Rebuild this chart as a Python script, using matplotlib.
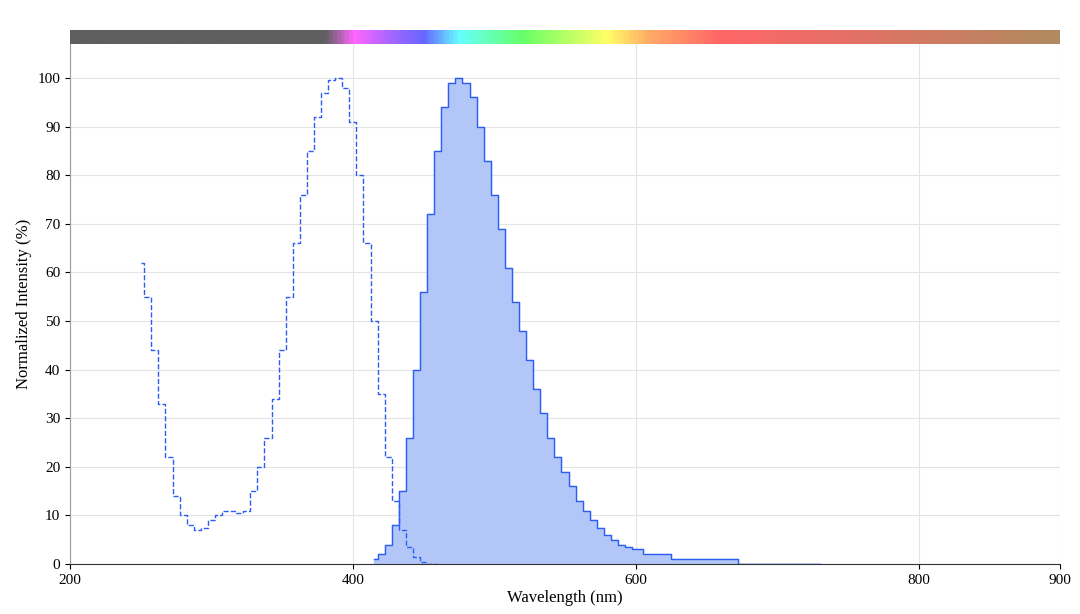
import numpy as np
import matplotlib
matplotlib.use("Agg")
import matplotlib.pyplot as plt
from matplotlib.colors import LinearSegmentedColormap

plt.rcParams['font.family'] = ['Liberation Serif', 'DejaVu Serif']

ex_wl = [250,255,260,265,270,275,280,285,290,295,300,305,310,315,320,325,330,335,340,345,350,355,360,365,370,375,380,385,390,395,400,405,410,415,420,425,430,435,440,445,450,455,460]
ex_val = [62,55,44,33,22,14,10,8,7,7.5,9,10,11,11,10.5,11,15,20,26,34,44,55,66,76,85,92,97,99.5,100,98,91,80,66,50,35,22,13,7,3.5,1.5,0.5,0,0]

em_wl = [415,420,425,430,435,440,445,450,455,460,465,470,475,480,485,490,495,500,505,510,515,520,525,530,535,540,545,550,555,560,565,570,575,580,585,590,595,600,610,620,630,640,650,660,670,675,700,730]
em_val = [1,2,4,8,15,26,40,56,72,85,94,99,100,99,96,90,83,76,69,61,54,48,42,36,31,26,22,19,16,13,11,9,7.5,6,5,4,3.5,3,2,2,1,1,1,1,1,0,0,0]

fig = plt.figure(figsize=(10.8, 6.14), dpi=100)
ax = fig.add_axes([70/1080, 50/614, 990/1080, 486/614 * (564-78)/486 * 1.0 * (1) if False else (564-50)/614 * 0 + 1 - 50/614 - 1 + (614-564)/614 * 0 + (564-44)/614 - 0 ])
# simpler explicit placement
ax.set_position([70/1080, (614-564)/614, 990/1080, (564-44)/614])
ax.set_xlim(200, 900)
ax.set_ylim(0, 107)
ax.set_yticks(range(0, 101, 10))
ax.set_xticks([200, 400, 600, 800, 900])
ax.grid(True, color='#e4e4e4', linewidth=0.8)
ax.set_axisbelow(True)
for s in ['top', 'right']:
    ax.spines[s].set_visible(False)
ax.spines['left'].set_color('#999999')
ax.spines['bottom'].set_color('#333333')
ax.tick_params(labelsize=11)

ax.plot(ex_wl, ex_val, linestyle='--', color='#2a5ef5', linewidth=1, drawstyle='steps-mid')
ax.fill_between(em_wl, em_val, step='mid', color='#b3c6f8')
ax.plot(em_wl, em_val, color='#2a5ef5', linewidth=1, drawstyle='steps-mid')

ax.set_xlabel('Wavelength (nm)', fontsize=12, labelpad=2)
ax.set_ylabel('Normalized Intensity (%)', fontsize=12)

# spectrum bar
cax = fig.add_axes([70/1080, (614-44)/614, 990/1080, 14/614])
stops = [(200,'#5f5f5f'),(380,'#5f5f5f'),(400,'#ff66ff'),(430,'#9966ff'),(450,'#6666ff'),(475,'#66ffff'),(520,'#66ff66'),(580,'#ffff66'),(610,'#ffaa66'),(660,'#ff6666'),(750,'#e57066'),(900,'#b08a60')]
cmap = LinearSegmentedColormap.from_list('spec', [((w-200)/700, c) for w, c in stops])
cax.imshow(np.linspace(0, 1, 700)[None, :], aspect='auto', cmap=cmap, extent=[200, 900, 0, 1])
cax.set_axis_off()

fig.savefig('out.png', dpi=100)
